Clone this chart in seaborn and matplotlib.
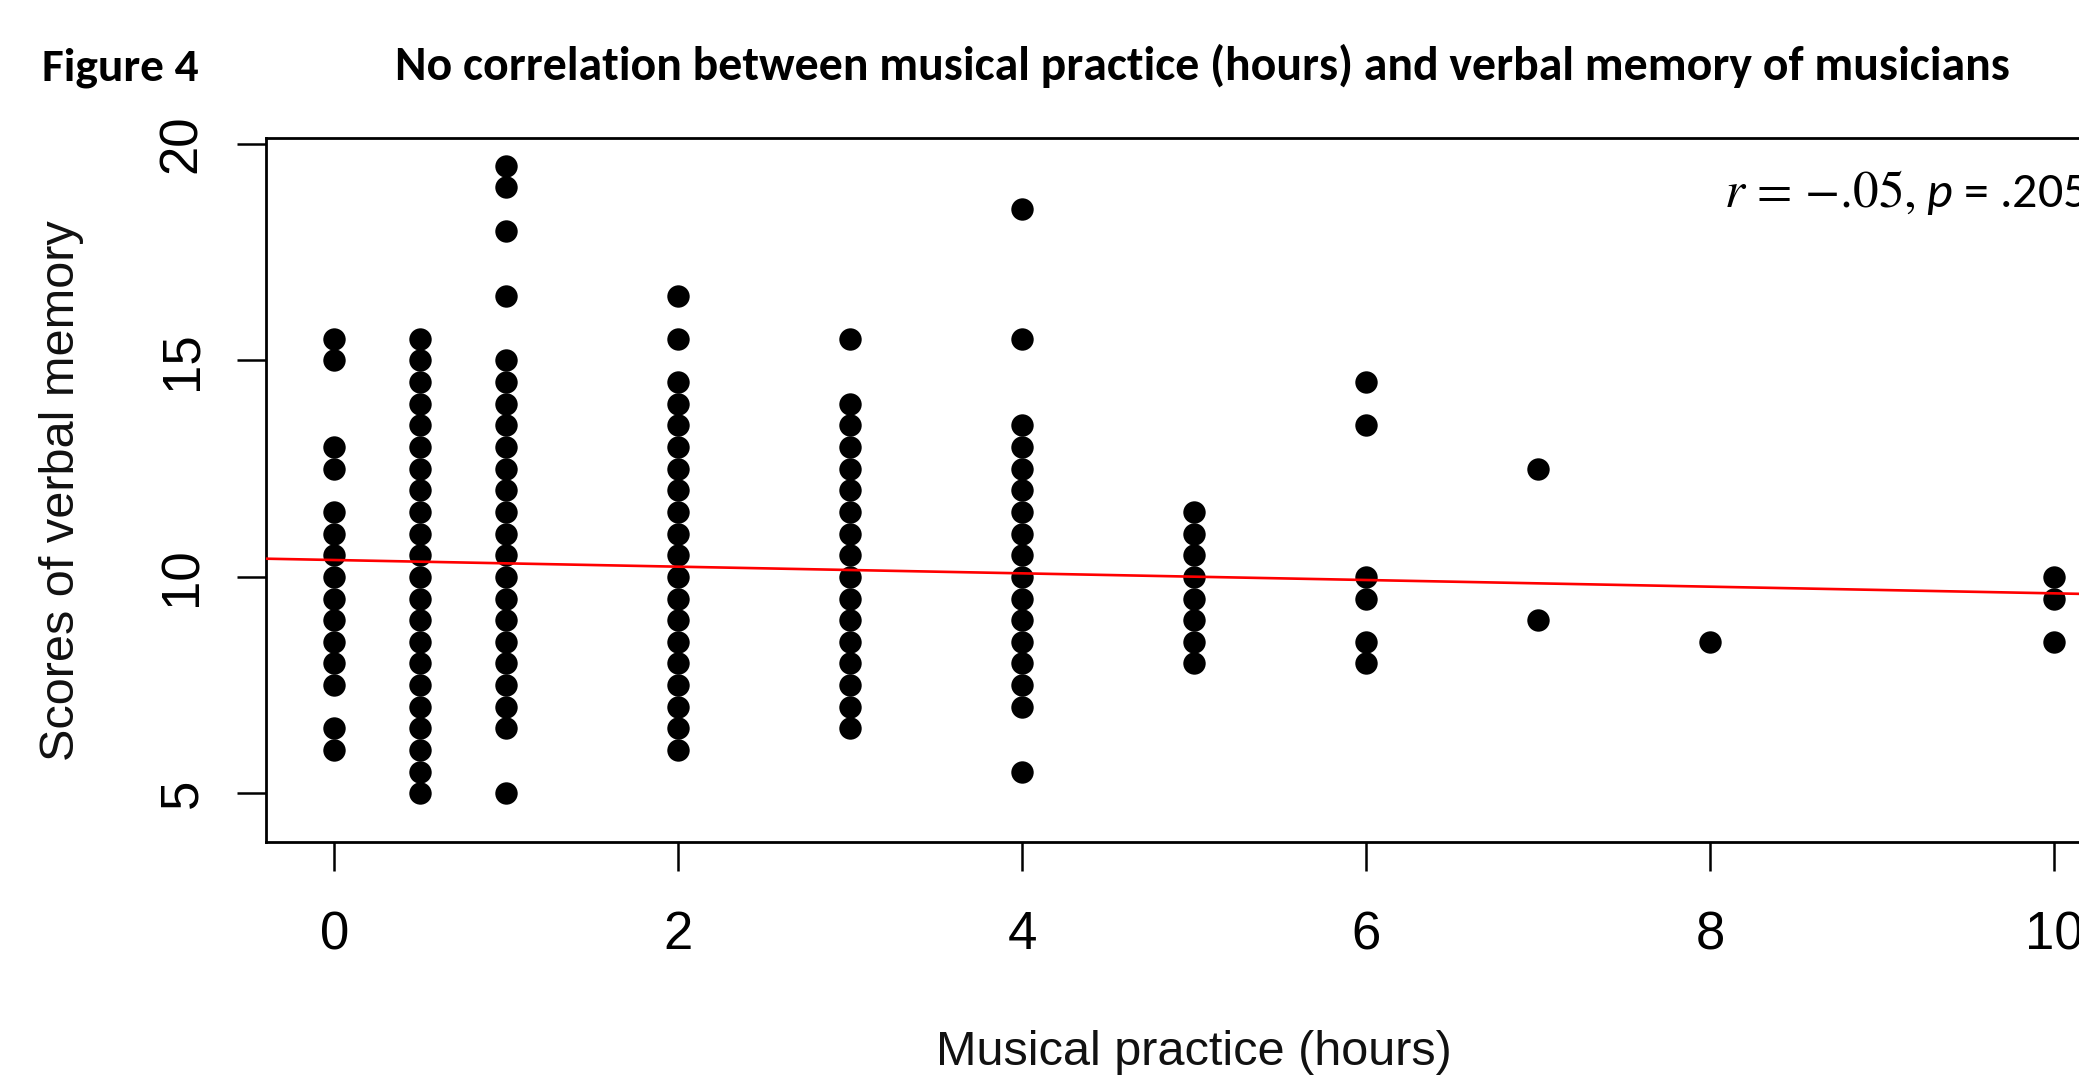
import numpy as np
import pandas as pd
import matplotlib
matplotlib.use("Agg")
import matplotlib.pyplot as plt
import seaborn as sns
from matplotlib import font_manager

# ---------------- data ----------------
practice_levels = [0, 0.5, 1, 2, 3, 4, 5, 6, 7, 8, 10]
scores_0h = [6.0, 6.5, 7.5, 8.0, 8.5, 9.0, 9.5, 10.0, 10.5, 11.0, 11.5, 12.5, 13.0, 15.0, 15.5]
scores_05h = [5.0, 5.5, 6.0, 6.5, 7.0, 7.5, 8.0, 8.5, 9.0, 9.5, 10.0, 10.5, 11.0, 11.5,
              12.0, 12.5, 13.0, 13.5, 14.0, 14.5, 15.0, 15.5]
scores_1h = [5.0, 6.5, 7.0, 7.5, 8.0, 8.5, 9.0, 9.5, 10.0, 10.5, 11.0, 11.5, 12.0, 12.5,
             13.0, 13.5, 14.0, 14.5, 15.0, 16.5, 18.0, 19.0, 19.5]
scores_2h = [6.0, 6.5, 7.0, 7.5, 8.0, 8.5, 9.0, 9.5, 10.0, 10.5, 11.0, 11.5, 12.0, 12.5,
             13.0, 13.5, 14.0, 14.5, 15.5, 16.5]
scores_3h = [6.5, 7.0, 7.5, 8.0, 8.5, 9.0, 9.5, 10.0, 10.5, 11.0, 11.5, 12.0, 12.5, 13.0,
             13.5, 14.0, 15.5]
scores_4h = [5.5, 7.0, 7.5, 8.0, 8.5, 9.0, 9.5, 10.0, 10.5, 11.0, 11.5, 12.0, 12.5, 13.0,
             13.5, 15.5, 18.5]
scores_5h = [8.0, 8.5, 9.0, 9.5, 10.0, 10.5, 11.0, 11.5]
scores_6h = [8.0, 8.5, 9.5, 10.0, 13.5, 14.5]
scores_7h = [9.0, 12.5]
scores_8h = [8.5]
scores_10h = [8.5, 9.5, 10.0]

fit_intercept = 10.39   # red regression line value at 0 hours
fit_slope = -0.077      # change per hour

x_ticks = [0, 2, 4, 6, 8, 10]
y_ticks = [5, 10, 15, 20]

fig_label = "Figure 4"
title_text = "No correlation between musical practice (hours) and verbal memory of musicians"
x_label = "Musical practice (hours)"
y_label = "Scores of verbal memory"
stat_r = "$r$ = \u2212.05,"
stat_p = r"$p$ = .205"

all_scores = [scores_0h, scores_05h, scores_1h, scores_2h, scores_3h, scores_4h,
              scores_5h, scores_6h, scores_7h, scores_8h, scores_10h]
df = pd.DataFrame({
    "hours": [h for h, s in zip(practice_levels, all_scores) for _ in s],
    "score": [v for s in all_scores for v in s],
})

# ---------------- fonts ----------------
def pick(fams):
    for f in fams:
        try:
            font_manager.findfont(font_manager.FontProperties(family=f),
                                  fallback_to_default=False)
            return f
        except Exception:
            pass
    return "DejaVu Sans"

r_font = pick(["Liberation Sans Narrow", "Liberation Sans", "Arial"])
cal_font = pick(["Carlito", "Lato", "Open Sans"])
serif_font = pick(["STIXGeneral", "Liberation Serif", "DejaVu Serif"])

sns.set_theme(style="white")
plt.rcParams["font.family"] = [r_font, "DejaVu Sans"]
plt.rcParams["mathtext.it"] = f"{cal_font}:italic"
plt.rcParams["mathtext.rm"] = cal_font

W, H = 2079, 1081
fig = plt.figure(figsize=(W / 100, H / 100), dpi=100)
fig.patch.set_facecolor("white")

# axes: left spine at 265.5px, x=0 at 334.3px, 171.97 px/unit; y from 138.3 to 842.3 px
ax = fig.add_axes([265.5 / W, (H - 842.3) / H, 1857.3 / W, 704 / H])
ax.set_facecolor("white")
ax.set_xlim(-0.4, 10.4)
ax.set_ylim(3.869, 20.132)

sns.scatterplot(data=df, x="hours", y="score", color="black", s=260, linewidth=0,
                marker="o", ax=ax, legend=False, zorder=3)
ax.axline((0, fit_intercept), slope=fit_slope, color="#ff0000", lw=1.9, zorder=4)

for side in ["top", "left", "bottom"]:
    ax.spines[side].set_visible(True)
    ax.spines[side].set_color("black")
    ax.spines[side].set_linewidth(2.0)
ax.spines["right"].set_visible(False)

ax.set_xticks(x_ticks)
ax.set_yticks(y_ticks)
ax.tick_params(axis="both", direction="out", length=21, width=1.8, color="black",
               labelsize=38, labelcolor="black", bottom=True, left=True)
ax.tick_params(axis="x", pad=28)
ax.tick_params(axis="y", pad=21, labelrotation=90)
for lbl in ax.get_yticklabels():
    lbl.set_va("center")
ax.grid(False)

ax.set_xlabel(x_label, fontsize=35, color="#111111")
ax.xaxis.set_label_coords(0.5, -0.298)
ax.xaxis.label.set_va("center")
ax.set_ylabel(y_label, fontsize=35, color="#111111")
ax.yaxis.set_label_coords(-0.1101, 0.5)
ax.yaxis.label.set_va("center")

# titles
base_y = 1 - 80 / H
t_fig = fig.text(42 / W, base_y, fig_label, family=cal_font, fontweight="bold",
                 fontsize=35, va="baseline", ha="left", color="black")
t_title = fig.text(395 / W, base_y, title_text, family=cal_font, fontweight="bold",
                   fontsize=35, va="baseline", ha="left", color="black")

def fit_width(t, target_px):
    fig.canvas.draw()
    w = t.get_window_extent().width
    t.set_fontsize(t.get_fontsize() * target_px / w)

fit_width(t_fig, 157)
fit_width(t_title, 1617)

# statistic annotation
stat_y = 1 - 207 / H
t1 = fig.text(1724 / W, stat_y, stat_r, fontsize=37, family=serif_font,
              math_fontfamily="stix", va="baseline", ha="left", color="black")
fit_width(t1, 192)
fig.canvas.draw()
x_end = t1.get_window_extent().x1
fig.text((x_end + 10) / W, stat_y, stat_p, fontsize=36, family=cal_font,
         math_fontfamily="custom", va="baseline", ha="left", color="black")

fig.savefig("out.png", dpi=100, facecolor="white")
